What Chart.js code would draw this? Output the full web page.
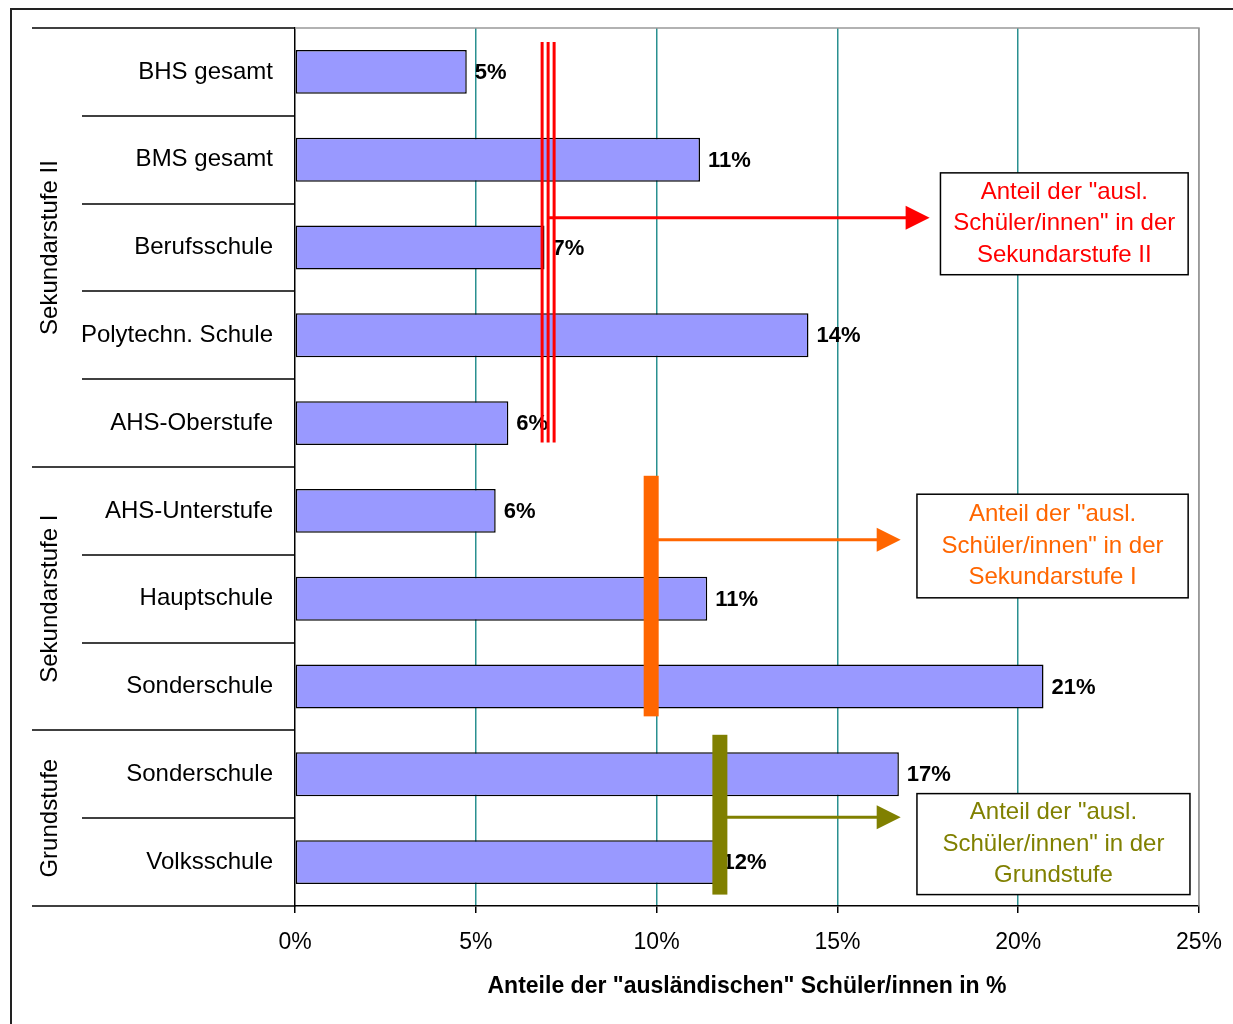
<!DOCTYPE html>
<html lang="de">
<head>
<meta charset="utf-8">
<title>Anteile der ausländischen Schüler/innen</title>
<script src="https://cdn.jsdelivr.net/npm/chart.js@4.4.1/dist/chart.umd.min.js"></script>
<style>
    html, body { margin: 0; padding: 0; background: #fff; }
    #wrap { position: relative; width: 1233px; height: 1024px; }
</style>
</head>
<body>
<div id="wrap"><canvas id="grafik"></canvas></div>
<script>
// Schularten, von oben nach unten
const kategorien = ["BHS gesamt", "BMS gesamt", "Berufsschule", "Polytechn. Schule", "AHS-Oberstufe",
    "AHS-Unterstufe", "Hauptschule", "Sonderschule", "Sonderschule", "Volksschule"];
// Anteil der "ausländischen" Schüler/innen in %
const anteile = [4.75, 11.2, 6.9, 14.2, 5.9, 5.55, 11.4, 20.7, 16.7, 11.6];

// Gruppen (Schulstufen) mit erstem und letztem Index
const gruppen = ["Sekundarstufe II", "Sekundarstufe I", "Grundstufe"];
const gruppenStart = [0, 5, 8];
const gruppenEnde = [4, 7, 9];
// Anteil je Schulstufe in %
const gruppenAnteil = [7.0, 9.85, 11.75];
const gruppenFarben = ["#ff0000", "#ff6600", "#808000"];
const gruppenText = [
    ['Anteil der "ausl.', 'Schüler/innen" in der', 'Sekundarstufe II'],
    ['Anteil der "ausl.', 'Schüler/innen" in der', 'Sekundarstufe I'],
    ['Anteil der "ausl.', 'Schüler/innen" in der', 'Grundstufe']
];

const xTicks = [0, 5, 10, 15, 20, 25];
const achsenTitel = 'Anteile der "ausländischen" Schüler/innen in %';

const SCHRIFT = "'Liberation Sans', Arial, sans-serif";

// Lage der Linien, Pfeile und Textkästen (in Achseneinheiten)
const layoutAnm = {
    linieVon: [-0.34, 4.6, 7.55],
    linieBis: [4.22, 7.34, 9.37],
    pfeilY: [1.66, 5.33, 8.49],
    pfeilBis: [17.55, 16.75, 16.75],
    kastenX: [[17.85, 24.7], [17.2, 24.7], [17.2, 24.75]],
    kastenY: [[1.15, 2.31], [4.81, 5.99], [8.22, 9.37]]
};

const anmerkungen = {
    id: "anmerkungen",
    beforeDraw(chart) {
        const { ctx, width, height } = chart;
        ctx.save();
        ctx.fillStyle = "#fff";
        ctx.fillRect(0, 0, width, height);
        // Rahmen um das ganze Bild
        ctx.strokeStyle = "#222";
        ctx.lineWidth = 2;
        ctx.beginPath();
        ctx.moveTo(11, height);
        ctx.lineTo(11, 9);
        ctx.lineTo(width, 9);
        ctx.stroke();
        ctx.restore();
    },
    beforeDatasetsDraw(chart) {
        const { ctx, chartArea: a, scales: { y } } = chart;
        ctx.save();
        // grauer Rand oben und rechts
        ctx.strokeStyle = "#999";
        ctx.lineWidth = 1.5;
        ctx.beginPath();
        ctx.moveTo(a.left, a.top);
        ctx.lineTo(a.right, a.top);
        ctx.lineTo(a.right, a.bottom);
        ctx.stroke();

        // Trennlinien links neben den Kategorien
        ctx.strokeStyle = "#000";
        for (let b = 0; b <= kategorien.length; b++) {
            const yy = Math.round(y.getPixelForValue(b - 0.5));
            const istGruppe = gruppenStart.includes(b) || b === kategorien.length;
            ctx.beginPath();
            ctx.moveTo(istGruppe ? 32 : 82, yy);
            ctx.lineTo(a.left, yy);
            ctx.stroke();
        }

        // Gruppennamen, gedreht
        ctx.fillStyle = "#000";
        ctx.font = "24px " + SCHRIFT;
        ctx.textAlign = "center";
        ctx.textBaseline = "middle";
        gruppen.forEach((name, i) => {
            const mitte = (y.getPixelForValue(gruppenStart[i]) + y.getPixelForValue(gruppenEnde[i])) / 2;
            ctx.save();
            ctx.translate(50, mitte);
            ctx.rotate(-Math.PI / 2);
            ctx.fillText(name, 0, 0);
            ctx.restore();
        });
        ctx.restore();
    },
    afterDatasetsDraw(chart) {
        const { ctx, scales: { x, y } } = chart;
        ctx.save();

        // Werte neben den Balken
        ctx.fillStyle = "#000";
        ctx.font = "bold 22px " + SCHRIFT;
        ctx.textAlign = "left";
        ctx.textBaseline = "middle";
        anteile.forEach((v, i) => {
            ctx.fillText(Math.round(v) + "%", x.getPixelForValue(v) + 8, y.getPixelForValue(i) + 1);
        });

        gruppen.forEach((name, i) => {
            const farbe = gruppenFarben[i];
            const xx = x.getPixelForValue(gruppenAnteil[i]);
            const oben = y.getPixelForValue(layoutAnm.linieVon[i]);
            const unten = y.getPixelForValue(layoutAnm.linieBis[i]);

            ctx.strokeStyle = farbe;
            ctx.fillStyle = farbe;
            if (i === 0) {
                // dreifache Linie
                ctx.lineWidth = 3;
                [-6, 0, 6].forEach(d => {
                    ctx.beginPath();
                    ctx.moveTo(xx + d, oben);
                    ctx.lineTo(xx + d, unten);
                    ctx.stroke();
                });
            } else {
                ctx.fillRect(xx - 7.5, oben, 15, unten - oben);
            }

            // Pfeil zum Textkasten
            const py = y.getPixelForValue(layoutAnm.pfeilY[i]);
            const spitze = x.getPixelForValue(layoutAnm.pfeilBis[i]);
            ctx.lineWidth = 3;
            ctx.beginPath();
            ctx.moveTo(xx, py);
            ctx.lineTo(spitze - 20, py);
            ctx.stroke();
            ctx.beginPath();
            ctx.moveTo(spitze, py);
            ctx.lineTo(spitze - 24, py - 12);
            ctx.lineTo(spitze - 24, py + 12);
            ctx.closePath();
            ctx.fill();

            // Textkasten
            const kx0 = x.getPixelForValue(layoutAnm.kastenX[i][0]);
            const kx1 = x.getPixelForValue(layoutAnm.kastenX[i][1]);
            const ky0 = y.getPixelForValue(layoutAnm.kastenY[i][0]);
            const ky1 = y.getPixelForValue(layoutAnm.kastenY[i][1]);
            ctx.fillStyle = "#fff";
            ctx.fillRect(kx0, ky0, kx1 - kx0, ky1 - ky0);
            ctx.strokeStyle = "#000";
            ctx.lineWidth = 1.5;
            ctx.strokeRect(kx0, ky0, kx1 - kx0, ky1 - ky0);
            ctx.fillStyle = farbe;
            ctx.font = "24px " + SCHRIFT;
            ctx.textAlign = "center";
            const zeilen = gruppenText[i];
            const mx = (kx0 + kx1) / 2;
            const my = (ky0 + ky1) / 2;
            zeilen.forEach((z, k) => {
                ctx.fillText(z, mx, my + (k - (zeilen.length - 1) / 2) * 31.5);
            });
        });
        ctx.restore();
    }
};

const ctx = document.getElementById("grafik").getContext("2d");
new Chart(ctx, {
    type: "bar",
    data: {
        labels: kategorien,
        datasets: [{
            data: anteile,
            backgroundColor: "#9999ff",
            borderColor: "#000",
            borderWidth: 1.5,
            borderSkipped: false,
            barPercentage: 0.5,
            categoryPercentage: 1
        }]
    },
    options: {
        indexAxis: "y",
        responsive: true,
        maintainAspectRatio: false,
        animation: false,
        layout: { padding: { left: 0, top: 28, right: 34, bottom: 0 } },
        plugins: {
            legend: { display: false },
            tooltip: { enabled: false }
        },
        scales: {
            x: {
                min: 0,
                max: 25,
                afterBuildTicks: s => { s.ticks = xTicks.map(v => ({ value: v })); },
                afterFit: s => { s.height = 118; s.paddingLeft = 0; s.paddingRight = 0; },
                ticks: {
                    callback: v => v + "%",
                    color: "#000",
                    font: { family: SCHRIFT, size: 23 },
                    padding: 16,
                    maxRotation: 0
                },
                grid: {
                    color: c => c.tick && c.tick.value === 25 ? "#999" : (c.tick && c.tick.value === 0 ? "rgba(0,0,0,0)" : "#2a9090"),
                    lineWidth: 1.5,
                    tickColor: "#000",
                    tickLength: 7
                },
                border: { display: true, color: "#000", width: 1.5 },
                title: {
                    display: true,
                    text: achsenTitel,
                    color: "#000",
                    font: { family: SCHRIFT, size: 23, weight: "bold" },
                    padding: { top: 6, bottom: 24 }
                }
            },
            y: {
                afterFit: s => { s.width = 295; s.paddingTop = 0; s.paddingBottom = 0; },
                ticks: {
                    color: "#000",
                    font: { family: SCHRIFT, size: 24 },
                    padding: 22
                },
                grid: { display: true, drawOnChartArea: false, drawTicks: false },
                border: { display: true, color: "#000", width: 1.5 }
            }
        }
    },
    plugins: [anmerkungen]
});
</script>
</body>
</html>
